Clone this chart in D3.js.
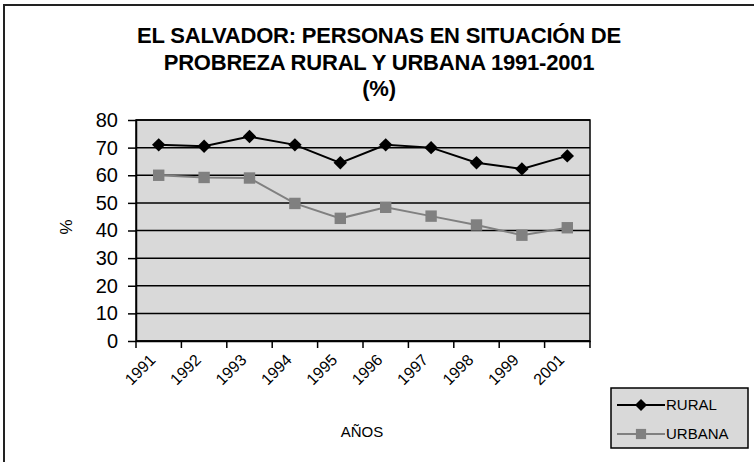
<!DOCTYPE html>
<html>
<head>
<meta charset="utf-8">
<script src="https://cdn.jsdelivr.net/npm/d3@7"></script>
<style>
    body { margin: 0; background: #fff; }
    text { font-family: Arial, "Liberation Sans", sans-serif; }
</style>
</head>
<body>
<div id="chart"></div>
<script>
// Data
var years = ["1991", "1992", "1993", "1994", "1995", "1996", "1997", "1998", "1999", "2001"];
var rural = [71, 70.5, 74, 71, 64.5, 71, 70, 64.5, 62.3, 67];
var urbana = [60, 59.2, 59, 49.8, 44.4, 48.4, 45.2, 42, 38.3, 41];
var yTicks = [0, 10, 20, 30, 40, 50, 60, 70, 80];
var titleLines = ["EL SALVADOR: PERSONAS EN SITUACIÓN DE", "PROBREZA RURAL Y URBANA 1991-2001", "(%)"];

var width = 754, height = 462;
var margin = { top: 120, right: 164, bottom: 121, left: 136 };

var svg = d3.select("#chart")
    .append("svg")
    .attr("width", width)
    .attr("height", height);

// outer frame (only top/left visible in the picture)
svg.append("rect")
    .attr("x", 4).attr("y", 5)
    .attr("width", 760).attr("height", 470)
    .attr("fill", "none")
    .attr("stroke", "#222")
    .attr("stroke-width", 2);

var x = d3.scaleBand()
    .domain(years)
    .range([margin.left, width - margin.right]);

var y = d3.scaleLinear()
    .domain([0, 80])
    .range([height - margin.bottom, margin.top]);

// plot area
svg.append("rect")
    .attr("x", x.range()[0])
    .attr("y", y(80))
    .attr("width", x.range()[1] - x.range()[0])
    .attr("height", y(0) - y(80))
    .attr("fill", "#d9d9d9")
    .attr("stroke", "#000")
    .attr("stroke-width", 1.5);

// gridlines
svg.selectAll(".grid")
    .data(yTicks)
    .enter().append("line")
    .attr("x1", x.range()[0])
    .attr("x2", x.range()[1])
    .attr("y1", function (d) { return y(d); })
    .attr("y2", function (d) { return y(d); })
    .attr("stroke", "#000")
    .attr("stroke-width", 1.5);

// y axis
var yAxis = svg.append("g")
    .attr("transform", "translate(" + margin.left + ",0)")
    .call(d3.axisLeft(y).tickValues(yTicks).tickSize(8).tickSizeOuter(0));
yAxis.select(".domain").attr("stroke-width", 1.5);
yAxis.selectAll(".tick line").attr("stroke-width", 1.5);
yAxis.selectAll("text")
    .style("font-size", "20px")
    .attr("fill", "#000")
    .attr("x", -18);

// x axis: ticks on category boundaries
var xAxis = svg.append("g")
    .attr("transform", "translate(0," + y(0) + ")")
    .call(d3.axisBottom(x).tickSize(0).tickSizeOuter(0));
xAxis.select(".domain").attr("stroke-width", 1.5);
xAxis.selectAll(".tick text")
    .style("font-size", "16px")
    .attr("fill", "#000")
    .attr("text-anchor", "end")
    .attr("transform", "translate(-10,12) rotate(-45)")
    .attr("dy", "0.7em")
    .attr("y", 0);

var edges = years.map(function (d) { return x(d); }).concat([x.range()[1]]);
xAxis.selectAll(".edge")
    .data(edges)
    .enter().append("line")
    .attr("x1", function (d) { return d; })
    .attr("x2", function (d) { return d; })
    .attr("y1", 0)
    .attr("y2", 7)
    .attr("stroke", "#000")
    .attr("stroke-width", 1.5);

// axis titles
svg.append("text")
    .attr("transform", "translate(72,227) rotate(-90)")
    .attr("text-anchor", "middle")
    .style("font-size", "17px")
    .text("%");

svg.append("text")
    .attr("x", 362)
    .attr("y", 437)
    .attr("text-anchor", "middle")
    .style("font-size", "15px")
    .text("AÑOS");

// title
svg.selectAll(".title")
    .data(titleLines)
    .enter().append("text")
    .attr("x", 379)
    .attr("y", function (d, i) { return 43 + i * 26.5; })
    .attr("text-anchor", "middle")
    .style("font-size", "22px")
    .style("font-weight", "bold")
    .style("letter-spacing", "-0.2px")
    .text(function (d) { return d; });

// lines
var line = d3.line()
    .x(function (d, i) { return x(years[i]) + x.bandwidth() / 2; })
    .y(function (d) { return y(d); });

var series = [
    { name: "RURAL", values: rural, color: "#000", marker: d3.symbolSquare, size: 90, rotate: 45 },
    { name: "URBANA", values: urbana, color: "#808080", marker: d3.symbolSquare, size: 130, rotate: 0 }
];

series.forEach(function (s) {
    svg.append("path")
        .datum(s.values)
        .attr("d", line)
        .attr("fill", "none")
        .attr("stroke", s.color)
        .attr("stroke-width", 2);

    svg.selectAll(".pt-" + s.name)
        .data(s.values)
        .enter().append("path")
        .attr("d", d3.symbol().type(s.marker).size(s.size))
        .attr("transform", function (d, i) {
            return "translate(" + (x(years[i]) + x.bandwidth() / 2) + "," + y(d) + ") rotate(" + s.rotate + ")";
        })
        .attr("fill", s.color);
});

// legend
var legend = svg.append("g").attr("transform", "translate(611,388)");
legend.append("rect")
    .attr("width", 137)
    .attr("height", 60)
    .attr("fill", "#d9d9d9")
    .attr("stroke", "#000")
    .attr("stroke-width", 1.5);

series.forEach(function (s, i) {
    var ly = 17 + i * 29;
    legend.append("line")
        .attr("x1", 6).attr("x2", 54)
        .attr("y1", ly).attr("y2", ly)
        .attr("stroke", s.color)
        .attr("stroke-width", 2);
    legend.append("path")
        .attr("d", d3.symbol().type(s.marker).size(s.size * 0.8))
        .attr("transform", "translate(30," + ly + ") rotate(" + s.rotate + ")")
        .attr("fill", s.color);
    legend.append("text")
        .attr("x", 55)
        .attr("y", ly)
        .attr("dy", "0.35em")
        .style("font-size", "15px")
        .text(s.name);
});
</script>
</body>
</html>
